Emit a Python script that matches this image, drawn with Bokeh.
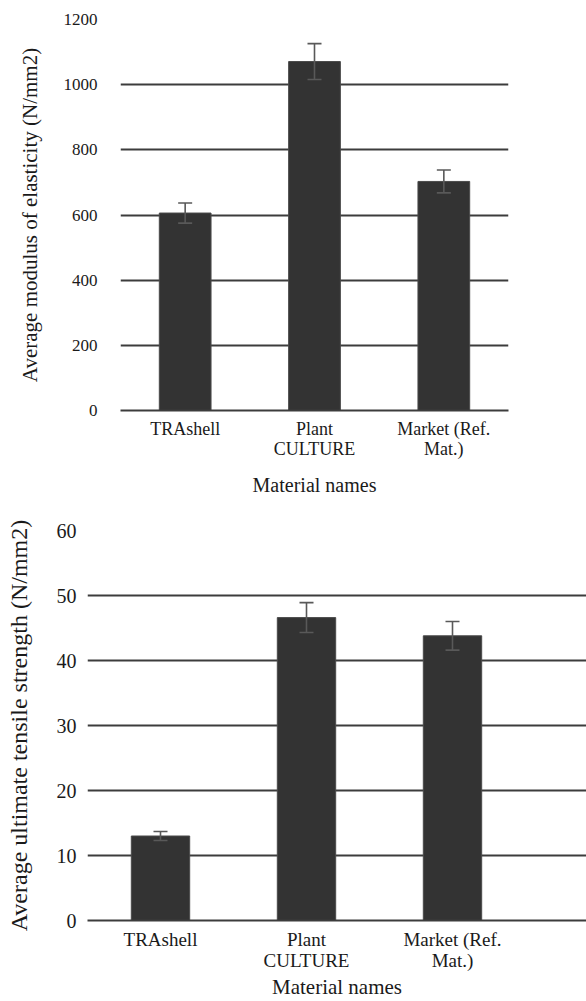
from bokeh.plotting import figure
from bokeh.models import ColumnDataSource, Whisker, TeeHead, FixedTicker, Range1d
from bokeh.embed import file_html
from bokeh.resources import INLINE

categories = ["TRAshell", "Plant\nCULTURE", "Market (Ref.\nMat.)"]
modulus = [606, 1071, 703]
modulus_err = [31, 55, 35]
tensile = [13.0, 46.6, 43.8]
tensile_err = [0.7, 2.3, 2.2]
modulus_ticks = [0, 200, 400, 600, 800, 1000, 1200]
tensile_ticks = [0, 10, 20, 30, 40, 50, 60]

FONT = "Liberation Serif"
BAR = "#333333"
GRID = "#3c3c3c"
ERR = "#595959"


def make_chart(values, errs, yticks, ylabel, width, height, borders, xend,
               tick_fs, cat_fs, title_fs, ylab_fs, tick_standoff, ylab_standoff,
               cat_standoff, xlab_standoff):
    xs = [i + 0.5 for i in range(len(categories))]
    src = ColumnDataSource(dict(
        x=xs, top=values,
        upper=[v + e for v, e in zip(values, errs)],
        lower=[v - e for v, e in zip(values, errs)],
    ))
    p = figure(width=width, height=height, output_backend="svg",
               toolbar_location=None, tools="",
               x_range=Range1d(0, xend), y_range=Range1d(yticks[0], yticks[-1]),
               min_border_top=borders[0], min_border_right=borders[1],
               min_border_bottom=borders[2], min_border_left=borders[3])
    p.outline_line_color = None
    p.background_fill_color = "white"
    p.vbar(x="x", top="top", bottom=0, width=0.4, source=src,
           fill_color=BAR, line_color="#4a4a4a", line_width=1)
    w = Whisker(base="x", upper="upper", lower="lower", source=src,
                dimension="height", line_color=ERR, line_width=1.6, level="overlay",
                upper_head=TeeHead(size=14, line_color=ERR, line_width=1.6),
                lower_head=TeeHead(size=14, line_color=ERR, line_width=1.6))
    p.add_layout(w)

    p.yaxis.ticker = FixedTicker(ticks=yticks)
    p.yaxis.axis_line_color = None
    p.yaxis.major_tick_line_color = None
    p.yaxis.minor_tick_line_color = None
    p.yaxis.major_label_standoff = tick_standoff
    p.yaxis.major_label_text_font = FONT
    p.yaxis.major_label_text_font_size = f"{tick_fs}px"
    p.yaxis.major_label_text_color = "#1a1a1a"
    p.yaxis.axis_label = ylabel
    p.yaxis.axis_label_text_font = FONT
    p.yaxis.axis_label_text_font_style = "normal"
    p.yaxis.axis_label_text_font_size = f"{ylab_fs}px"
    p.yaxis.axis_label_text_color = "#1a1a1a"
    p.yaxis.axis_label_standoff = ylab_standoff

    p.xaxis.ticker = FixedTicker(ticks=xs)
    p.xaxis.major_label_overrides = {x: c for x, c in zip(xs, categories)}
    p.xaxis.axis_line_color = GRID
    p.xaxis.axis_line_width = 1.8
    p.xaxis.major_tick_line_color = None
    p.xaxis.minor_tick_line_color = None
    p.xaxis.major_label_standoff = cat_standoff
    p.xaxis.major_label_text_font = FONT
    p.xaxis.major_label_text_font_size = f"{cat_fs}px"
    p.xaxis.major_label_text_line_height = 1.0
    p.xaxis.major_label_text_color = "#1a1a1a"
    p.xaxis.axis_label = "Material names"
    p.xaxis.axis_label_text_font = FONT
    p.xaxis.axis_label_text_font_style = "normal"
    p.xaxis.axis_label_text_font_size = f"{title_fs}px"
    p.xaxis.axis_label_text_line_height = 1.0
    p.xaxis.axis_label_text_color = "#1a1a1a"
    p.xaxis.axis_label_standoff = xlab_standoff

    p.xgrid.grid_line_color = None
    p.ygrid.ticker = FixedTicker(ticks=yticks[1:])
    p.ygrid.grid_line_color = GRID
    p.ygrid.grid_line_width = 1.8
    return p


top = make_chart(modulus, modulus_err, modulus_ticks,
                 "Average modulus of elasticity (N/mm2)",
                 width=586, height=513, borders=(19, 78, 103, 120), xend=3,
                 tick_fs=17, cat_fs=18, title_fs=20, ylab_fs=21,
                 tick_standoff=17, ylab_standoff=19, cat_standoff=2, xlab_standoff=12)

bottom = make_chart(tensile, tensile_err, tensile_ticks,
                    "Average ultimate tensile strength (N/mm2)",
                    width=586, height=488, borders=(17, 0, 81, 87), xend=499 / 146,
                    tick_fs=20, cat_fs=19, title_fs=21, ylab_fs=24,
                    tick_standoff=5, ylab_standoff=22, cat_standoff=2, xlab_standoff=1)

open("out.html", "w").write(file_html([top, bottom], INLINE))
